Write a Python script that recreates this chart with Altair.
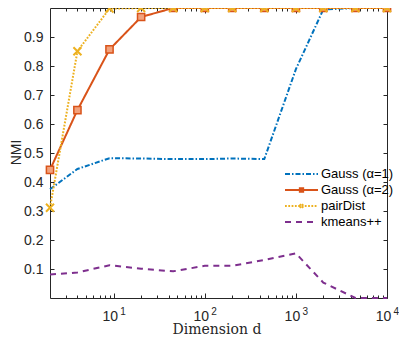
import altair as alt
import pandas as pd

# ---------------- data ----------------
dims = [2, 4, 9, 20, 45, 100, 200, 450, 1000, 2000, 4500, 10000]
gauss1 = [0.375, 0.445, 0.482, 0.481, 0.479, 0.479, 0.481, 0.479, 0.789, 0.995, 1.0, 1.0]
gauss2 = [0.442, 0.648, 0.857, 0.969, 1.0, 1.0, 1.0, 1.0, 1.0, 1.0, 1.0, 1.0]
pairdist = [0.311, 0.851, 0.998, 1.0, 1.0, 1.0, 1.0, 1.0, 1.0, 1.0, 1.0, 1.0]
kmeans = [0.081, 0.088, 0.113, 0.101, 0.092, 0.111, 0.111, 0.131, 0.154, 0.053, 0.0, 0.0]

series_names = ["Gauss (α=1)", "Gauss (α=2)", "pairDist", "kmeans++"]
series_values = [gauss1, gauss2, pairdist, kmeans]

x_major = [10, 100, 1000, 10000]
x_minor = [3, 4, 5, 6, 7, 8, 9, 20, 30, 40, 50, 60, 70, 80, 90,
           200, 300, 400, 500, 600, 700, 800, 900,
           2000, 3000, 4000, 5000, 6000, 7000, 8000, 9000]
y_ticks = [0.1, 0.2, 0.3, 0.4, 0.5, 0.6, 0.7, 0.8, 0.9]

# ---------------- style ----------------
colors = ["#0072BD", "#D95319", "#EDB120", "#7E2F8E"]
dashes = [[5, 2, 1.5, 2], [1, 0], [1.8, 1.5], [6, 5]]
widths = [2, 2, 2, 2]
legend_paths = [
    "M-1,0H1",
    "M-1,0H1M-0.1,-0.1H0.1V0.1H-0.1Z",
    "M-1,0H1M-0.11,-0.11L0.11,0.11M-0.11,0.11L0.11,-0.11",
    "M-1,0H1",
]
AX = "#262626"
W, H = 337, 290
PAD_L = 42

rows = []
for name, vals in zip(series_names, series_values):
    for d, v in zip(dims, vals):
        rows.append({"dim": d, "value": v, "series": name})
df = pd.DataFrame(rows)

xscale = alt.Scale(type="log", domain=[2, 10000], nice=False)
yscale = alt.Scale(domain=[0, 1], nice=False, zero=False)


def xenc(axis):
    return alt.X("dim:Q", scale=xscale, axis=axis)


def yenc(axis):
    return alt.Y("value:Q", scale=yscale, axis=axis)


main_x_axis = alt.Axis(
    orient="bottom", values=x_major, labelExpr="'10'", ticks=False, tickSize=0,
    domain=False, grid=False, labelFont="Liberation Sans", labelFontSize=14,
    labelColor=AX, labelPadding=11, labelOffset=-4, labelAlign="center",
    title="Dimension d", titleFont="DejaVu Serif", titleFontSize=14,
    titleFontWeight="normal", titleColor=AX, titleX=216.5 - 8 - PAD_L, titleY=35.5,
    titleBaseline="alphabetic", titleAlign="center",
)
main_y_axis = alt.Axis(
    orient="left", values=y_ticks, format=".1f", ticks=False, tickSize=0,
    domain=False, grid=False, labelFont="Liberation Sans", labelFontSize=14,
    labelColor=AX, labelPadding=7,
    title="NMI", titleFont="Liberation Sans", titleFontSize=14,
    titleFontWeight="normal", titleColor=AX, titleX=-29.5, titleY=144,
    titleBaseline="alphabetic", titleAlign="center", titleAngle=270,
)
exp_axis = alt.Axis(
    orient="bottom", values=x_major,
    labelExpr="format(round(log(datum.value)/LN10), 'd')",
    ticks=False, tickSize=0, domain=False, grid=False,
    labelFont="Liberation Sans", labelFontSize=10, labelColor=AX,
    labelPadding=8, labelOffset=6, labelAlign="left", title=None,
)


def tick_axis(orient, values, size, offset):
    return alt.Axis(orient=orient, values=values, labels=False, domain=False,
                    grid=False, ticks=True, tickSize=size, tickColor=AX,
                    tickWidth=1, offset=offset, title=None)


layers = []

# lines and markers
for i, name in enumerate(series_names):
    sub = df[df.series == name]
    if i == 0:
        enc = dict(x=xenc(main_x_axis), y=yenc(main_y_axis))
    else:
        enc = dict(x=xenc(None), y=yenc(None))
    layers.append(
        alt.Chart(sub).mark_line(color=colors[i], strokeDash=dashes[i],
                                 strokeWidth=widths[i], clip=False).encode(**enc)
    )
    if name == "Gauss (α=2)":
        layers.append(
            alt.Chart(sub).mark_point(shape="square", filled=True, fill="#F2A27C",
                                      stroke=colors[i], strokeWidth=1.5, size=52,
                                      opacity=1).encode(x=xenc(None), y=yenc(None))
        )
    if name == "pairDist":
        layers.append(
            alt.Chart(sub).mark_point(shape="M-1,-1L1,1M-1,1L1,-1", filled=False,
                                      stroke=colors[i], strokeWidth=2, size=64,
                                      opacity=1).encode(x=xenc(None), y=yenc(None))
        )

# axes layers (invisible marks carrying extra axes)
inv = alt.Chart(df).mark_point(opacity=0)
layers.append(inv.encode(x=xenc(exp_axis), y=yenc(tick_axis("right", y_ticks, 4, -W))))
layers.append(inv.encode(x=xenc(tick_axis("top", x_major, 5, -H)),
                         y=yenc(tick_axis("left", y_ticks, 4, -W))))
layers.append(inv.encode(x=xenc(tick_axis("top", x_minor, 3, -H)), y=yenc(None)))
layers.append(inv.encode(x=xenc(tick_axis("bottom", x_major, 5, -H)), y=yenc(None)))
layers.append(inv.encode(x=xenc(tick_axis("bottom", x_minor, 3, -H)), y=yenc(None)))

# legend layer
leg = alt.Legend(
    orient="none", legendX=285 - 1 - 8 - PAD_L, legendY=158, title=None, padding=0,
    rowPadding=0, clipHeight=16, symbolSize=1089, symbolStrokeWidth=2,
    symbolOpacity=1, symbolFillColor="transparent", labelFont="Liberation Sans",
    labelFontSize=13, labelColor="#000000", labelOffset=2,
)
leg_df = pd.DataFrame({"series": series_names})
layers.append(
    alt.Chart(leg_df).mark_point(opacity=0, filled=False, strokeWidth=2).encode(
        color=alt.Color("series:N", sort=series_names,
                        scale=alt.Scale(domain=series_names, range=colors), legend=leg),
        shape=alt.Shape("series:N", sort=series_names,
                        scale=alt.Scale(domain=series_names, range=legend_paths), legend=leg),
        strokeDash=alt.StrokeDash("series:N", sort=series_names,
                                  scale=alt.Scale(domain=series_names, range=dashes), legend=leg),
    )
)

chart = (
    alt.layer(*layers)
    .resolve_axis(x="independent", y="independent")
    .properties(
        width=W, height=H, background="white",
        padding={"left": PAD_L, "top": 0, "right": 12, "bottom": 39},
        autosize=alt.AutoSizeParams(type="none"),
    )
    .configure_view(stroke=AX, strokeWidth=1)
)

chart.save("out.html", embed_options={"renderer": "svg", "actions": False})
